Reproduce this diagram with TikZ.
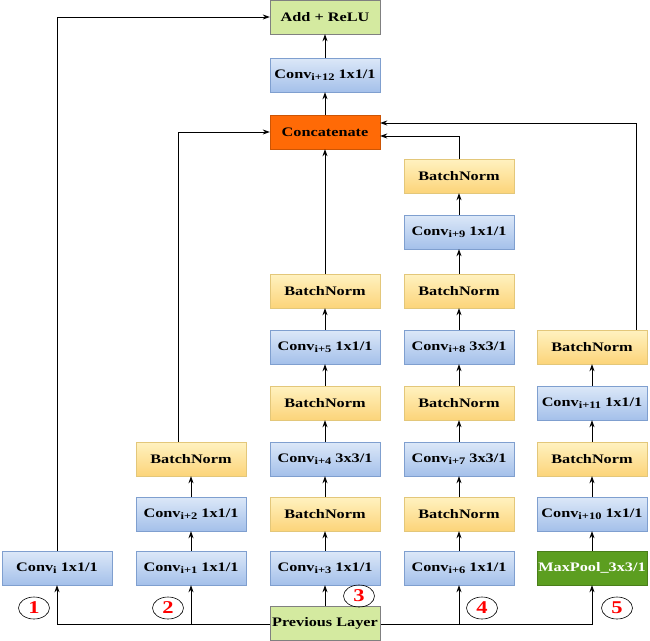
\documentclass[tikz,border=0pt]{standalone}
\usepackage{fontspec}
\setmainfont{Liberation Serif}[FakeStretch=1.25]
\usetikzlibrary{arrows.meta,shapes.geometric}
\definecolor{convtop}{HTML}{DCE8F8}
\definecolor{convbot}{HTML}{A4C0EA}
\definecolor{convdraw}{HTML}{7F9FCF}
\definecolor{bntop}{HTML}{FFF2C0}
\definecolor{bnbot}{HTML}{FCD47A}
\definecolor{bndraw}{HTML}{E3C77A}
\definecolor{lgreen}{HTML}{D4EAA0}
\definecolor{dgreen}{HTML}{5C9E20}
\definecolor{orng}{HTML}{FF6A06}
\newcommand\sbs[1]{\raisebox{-0.4ex}{\fontsize{10}{10}\selectfont #1}}
\begin{document}
\begin{tikzpicture}[x=1pt,y=-1pt,
  box/.style={minimum width=110pt,minimum height=34pt,inner sep=0pt,font=\bfseries\fontsize{13}{15}\selectfont},
  conv/.style={box,top color=convtop,bottom color=convbot,draw=convdraw},
  bn/.style={box,top color=bntop,bottom color=bnbot,draw=bndraw},
  lg/.style={box,fill=lgreen,draw=gray},
  arr/.style={-{Stealth[length=7pt,width=5pt]},line width=0.8pt},
  num/.style={ellipse,draw,line width=0.6pt,minimum width=31pt,minimum height=22pt,inner sep=0pt,text=red,font=\bfseries\fontsize{18}{18}\selectfont}]
\useasboundingbox (0,0) rectangle (650,640);
% top
\node[lg] (add) at (325,17) {Add + ReLU};
\node[conv] (c12) at (325,75) {Conv\sbs{i+12} 1x1/1};
\node[box,fill=orng,draw=orng!80!black] (cat) at (325,132) {Concatenate};
% column 1
\node[conv] (c0) at (57,568) {Conv\sbs{i} 1x1/1};
% column 2
\node[conv] (c1) at (191,568) {Conv\sbs{i+1} 1x1/1};
\node[conv] (c2) at (191,514) {Conv\sbs{i+2} 1x1/1};
\node[bn] (b2) at (191,459) {BatchNorm};
% column 3
\node[conv] (c3) at (325,568) {Conv\sbs{i+3} 1x1/1};
\node[bn] (b3a) at (325,514) {BatchNorm};
\node[conv] (c4) at (325,459) {Conv\sbs{i+4} 3x3/1};
\node[bn] (b3b) at (325,403) {BatchNorm};
\node[conv] (c5) at (325,347) {Conv\sbs{i+5} 1x1/1};
\node[bn] (b3c) at (325,291) {BatchNorm};
% column 4
\node[conv] (c6) at (459,568) {Conv\sbs{i+6} 1x1/1};
\node[bn] (b4a) at (459,514) {BatchNorm};
\node[conv] (c7) at (459,459) {Conv\sbs{i+7} 3x3/1};
\node[bn] (b4b) at (459,403) {BatchNorm};
\node[conv] (c8) at (459,347) {Conv\sbs{i+8} 3x3/1};
\node[bn] (b4c) at (459,291) {BatchNorm};
\node[conv] (c9) at (459,232) {Conv\sbs{i+9} 1x1/1};
\node[bn] (b4d) at (459,176) {BatchNorm};
% column 5
\node[box,fill=dgreen,draw=dgreen!80!black,text=white] (mp) at (592,568) {MaxPool\_3x3/1};
\node[conv] (c10) at (592,514) {Conv\sbs{i+10} 1x1/1};
\node[bn] (b5a) at (592,459) {BatchNorm};
\node[conv] (c11) at (592,403) {Conv\sbs{i+11} 1x1/1};
\node[bn] (b5b) at (592,347) {BatchNorm};
% connectors from previous layer (drawn first, box covers line)
\coordinate (pl) at (325,624);
\draw[arr] (pl) -| (c0.south);
\draw[arr] (pl) -| (c1.south);
\draw[arr] (pl) -| (c6.south);
\draw[arr] (pl) -| (mp.south);
\node[lg] (prev) at (325,623) {Previous Layer};
\draw[arr] (prev.north) -- (c3.south);
% chains
\draw[arr] (c1) -- (c2);
\draw[arr] (c2) -- (b2);
\draw[arr] (c3) -- (b3a);
\draw[arr] (b3a) -- (c4);
\draw[arr] (c4) -- (b3b);
\draw[arr] (b3b) -- (c5);
\draw[arr] (c5) -- (b3c);
\draw[arr] (c6) -- (b4a);
\draw[arr] (b4a) -- (c7);
\draw[arr] (c7) -- (b4b);
\draw[arr] (b4b) -- (c8);
\draw[arr] (c8) -- (b4c);
\draw[arr] (b4c) -- (c9);
\draw[arr] (c9) -- (b4d);
\draw[arr] (mp) -- (c10);
\draw[arr] (c10) -- (b5a);
\draw[arr] (b5a) -- (c11);
\draw[arr] (c11) -- (b5b);
\draw[arr] (cat) -- (c12);
\draw[arr] (c12) -- (add);
% branch outputs
\draw[arr] (c0.north) |- (add.west);
\draw[arr] ([xshift=-13pt]b2.north) |- (cat.west);
\draw[arr] (b3c.north) -- (cat.south);
\draw[arr] (b4d.north) |- ([yshift=-4pt]cat.east);
\draw[arr] ([xshift=44pt]b5b.north) |- ([yshift=9pt]cat.east);
% numbers
\node[num] (n1) at (34,608) {1};
\node[num] (n2) at (168,608) {2};
\node[num] (n3) at (359,596) {3};
\node[num] (n4) at (482,608) {4};
\node[num] (n5) at (617,608) {5};
\end{tikzpicture}
\end{document}
